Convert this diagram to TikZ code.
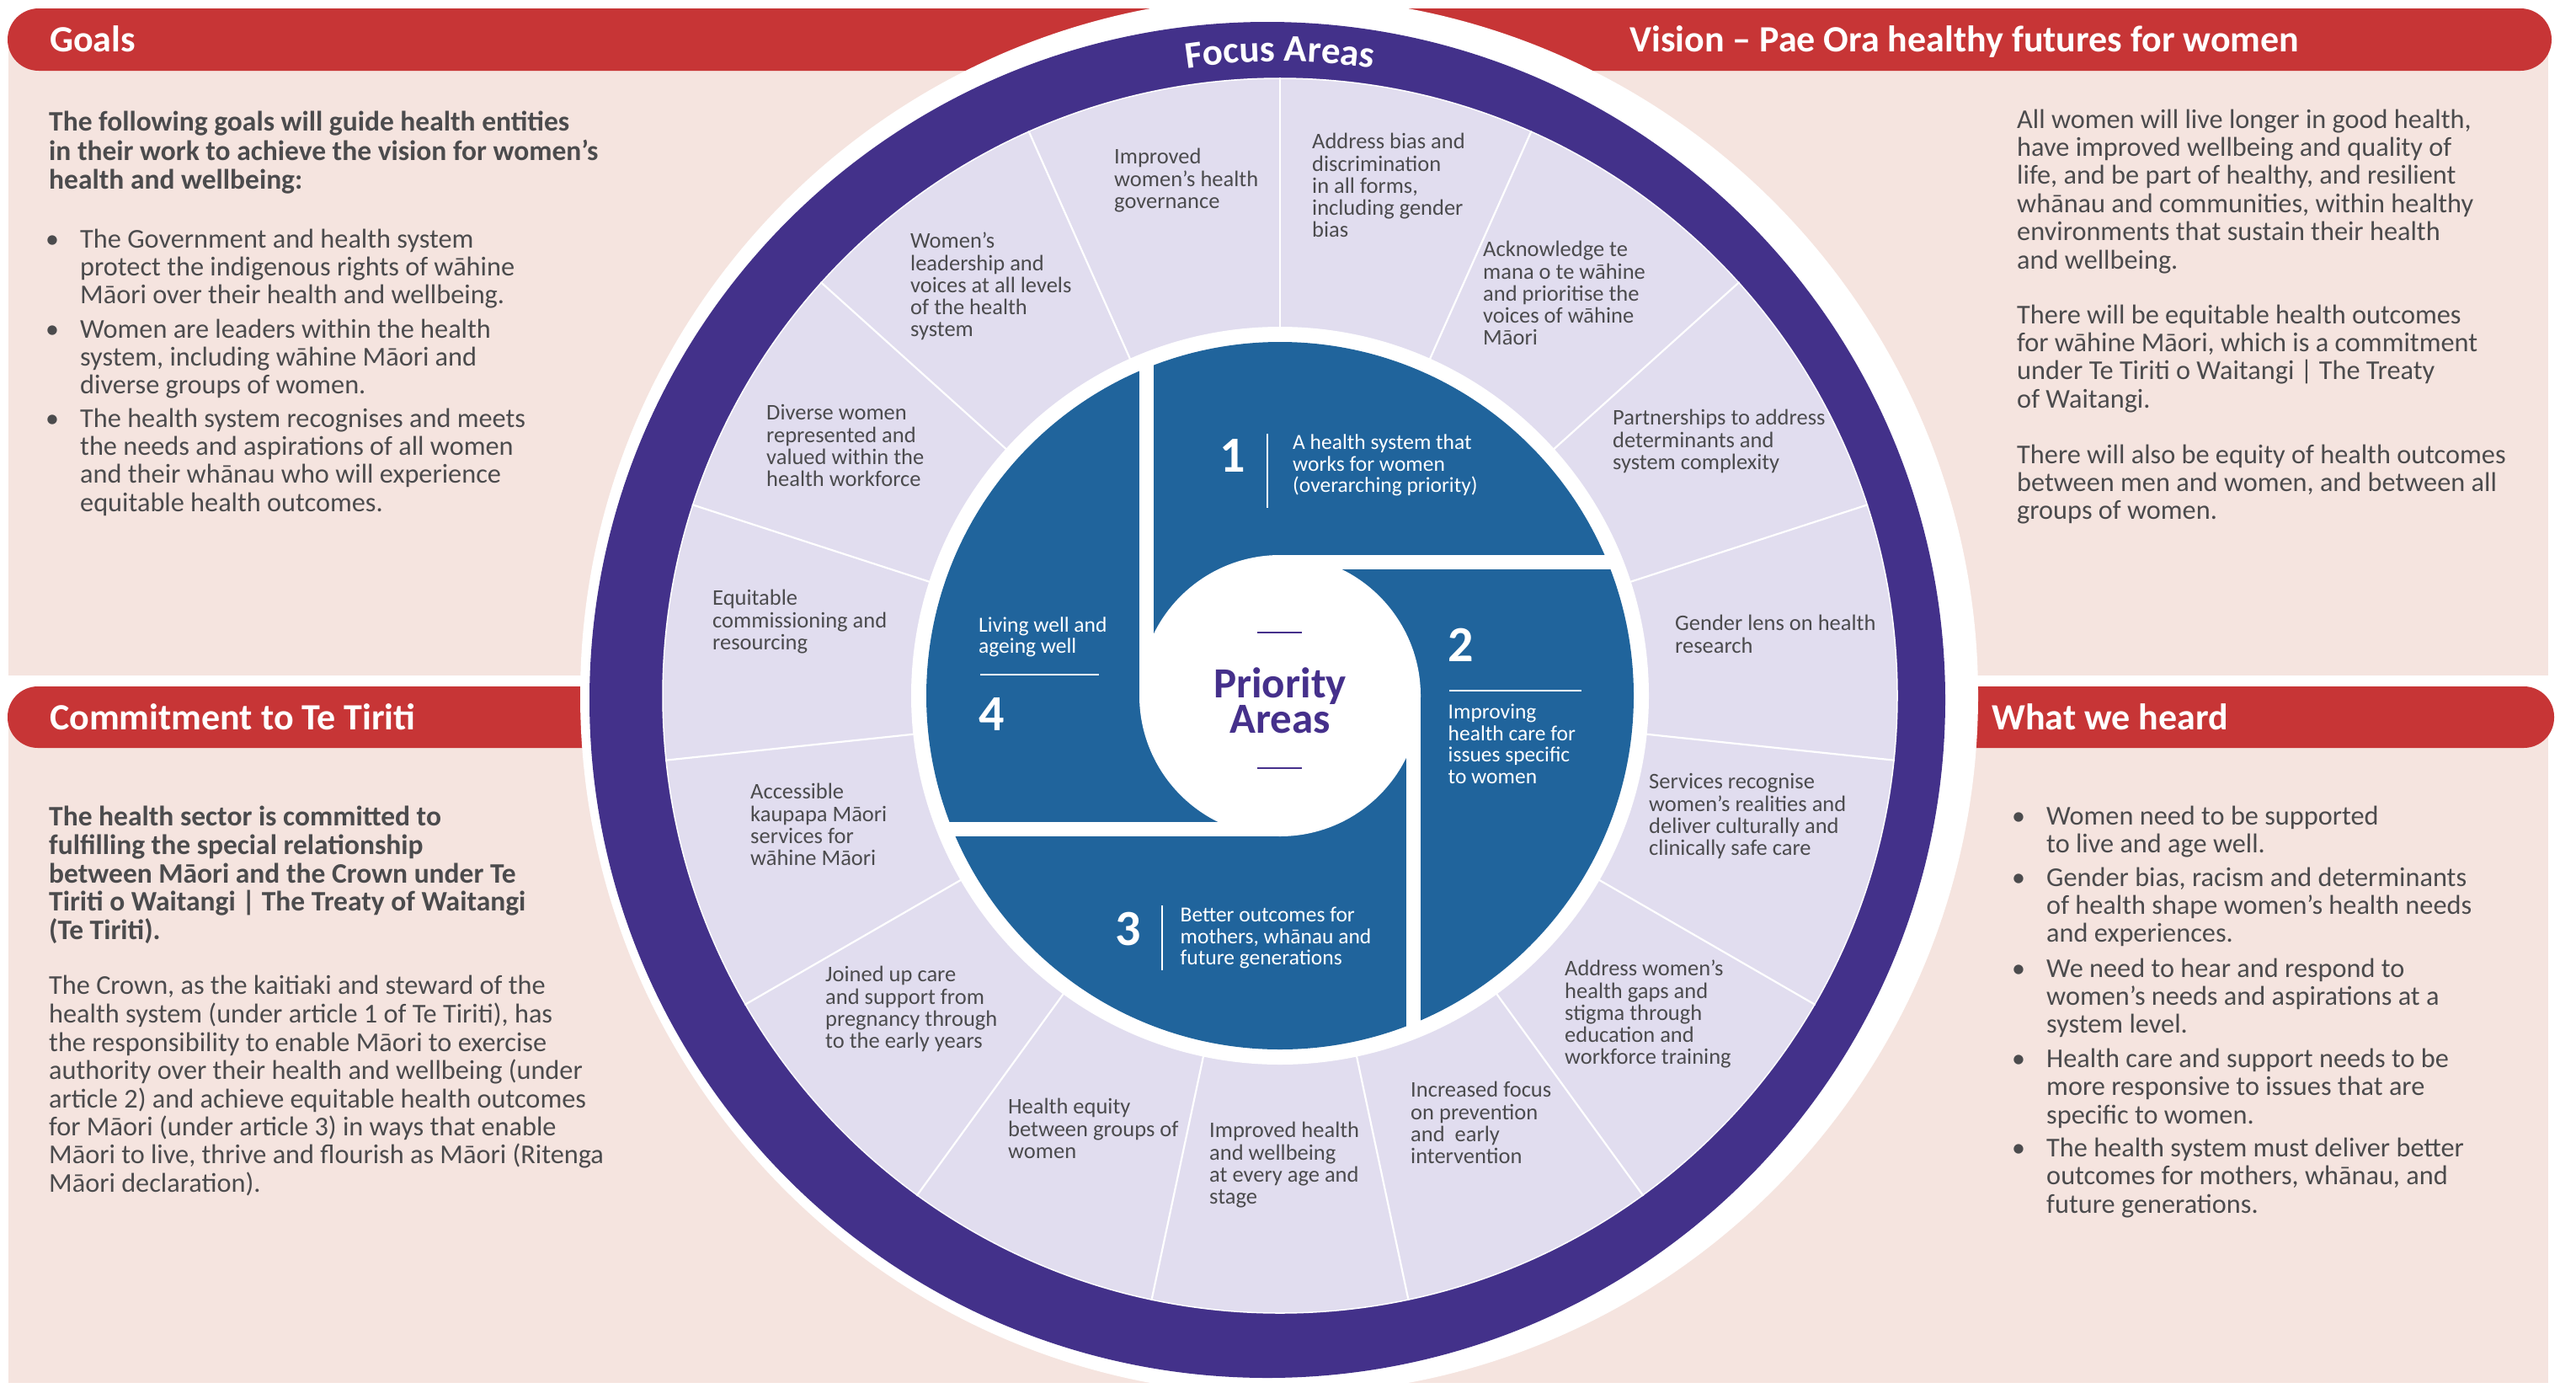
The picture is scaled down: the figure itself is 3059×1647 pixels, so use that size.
\documentclass[tikz,border=0pt]{standalone}
\usepackage{fontspec}
\setmainfont{Carlito}
\usetikzlibrary{calc,decorations.text}
\definecolor{pinkbg}{HTML}{F5E4DF}
\definecolor{barred}{HTML}{C73536}
\definecolor{ringpurple}{HTML}{43318A}
\definecolor{lav}{HTML}{E1DDEF}
\definecolor{qblue}{HTML}{20649C}
\definecolor{txt}{HTML}{4B4B4D}
\definecolor{ptxt}{HTML}{45308B}
\begin{document}
\begin{tikzpicture}[x=1pt,y=1pt,
  body/.style={anchor=north west, inner sep=0pt, align=left, text=txt, font=\fontsize{32.3}{33.4}\selectfont},
  bodyb/.style={anchor=north west, inner sep=0pt, align=left, text=txt, font=\fontsize{33.5}{33.4}\selectfont\bfseries},
  dot/.style={anchor=base, inner sep=0pt, text=txt, font=\fontsize{32}{33.4}\selectfont},
  seg/.style={anchor=north west, inner sep=0pt, align=left, text=txt, font=\fontsize{26.5}{26}\selectfont},
  quad/.style={anchor=north west, inner sep=0pt, align=left, text=white, font=\fontsize{25.5}{25.5}\selectfont},
  num/.style={inner sep=0pt, text=white, font=\fontsize{60}{60}\selectfont\bfseries},
  title/.style={anchor=base west, inner sep=0pt, text=white, font=\fontsize{44}{44}\selectfont\bfseries},
  prio/.style={anchor=north, inner sep=0pt, align=center, text=ptxt, font=\fontsize{51}{42}\selectfont\bfseries},
  divline/.style={white, line width=2.2pt},
  qline/.style={white, line width=2pt},
  pline/.style={ptxt, line width=2pt}
]
\useasboundingbox (0,0) rectangle (3059,-1647);
\fill[white] (0,0) rectangle (3059,-1647);
% panels
\fill[pinkbg] (10,-47) rectangle (3026,-802);
\fill[pinkbg] (10,-851) rectangle (3026,-1642);
% red bars
\fill[barred, rounded corners=37pt] (9,-10) rectangle (3030,-84);
\fill[barred, rounded corners=36pt] (9,-815) rectangle (760,-888);
\fill[barred, rounded corners=36pt] (2280,-815) rectangle (3033,-888);
% wheel
\coordinate (C) at (1520,-826);
\fill[white] (1519,-826) circle[radius=830pt];
\fill[ringpurple] (1505,-831) circle[radius=805pt];
\fill[lav, draw=white, line width=1.5pt] (C) circle[radius=733pt];
\foreach \a in {90,66,...,-246}
  \draw[divline] ($(C)+(\a:436pt)$) -- ($(C)+(\a:734pt)$);
\fill[white] (C) circle[radius=438pt];
\fill[qblue] (C) circle[radius=420pt];
\begin{scope}
  \clip (C) circle[radius=430pt];
  \fill[white] (C) circle[radius=167pt];
  \fill[white] (1353,-826) rectangle (1370,-380);
  \fill[white] (1520,-659) rectangle (1960,-676);
  \fill[white] (1670,-826) rectangle (1687,-1270);
  \fill[white] (1080,-976) rectangle (1520,-993);
\end{scope}
% Focus Areas curved title
\path[decorate, decoration={text along path, text color=white, text align=center,
  text={|\fontsize{45}{45}\selectfont\bfseries|Focus Areas}}]
  ($(C)+(100:753pt)$) arc[start angle=100, end angle=80, radius=753pt];

% titles
\node[title] (tgoals) at (59,-61) {Goals};
\node[title] (tvision) at (1935,-61) {Vision – Pae Ora healthy futures for women};
\node[title] (tcommit) at (59,-866) {Commitment to Te Tiriti};
\node[title] (theard) at (2365,-866) {What we heard};

% Goals
\node[bodyb] (gintro) at (58,-131.6) {\strut The following goals will guide health entities\\in their work to achieve the vision for women’s\\health and wellbeing:};
\node[dot] (gd1) at (62,-294) {\textbullet};
\node[body] (gb1) at (95,-270.6) {\strut The Government and health system\\protect the indigenous rights of wāhine\\Māori over their health and wellbeing.};
\node[dot] (gd2) at (62,-401) {\textbullet};
\node[body] (gb2) at (95,-377.6) {\strut Women are leaders within the health\\system, including wāhine Māori and\\diverse groups of women.};
\node[dot] (gd3) at (62,-507) {\textbullet};
\node[body] (gb3) at (95,-483.6) {\strut The health system recognises and meets\\the needs and aspirations of all women\\and their whānau who will experience\\equitable health outcomes.};

% Commitment
\node[bodyb] (cintro) at (58,-956.6) {\strut The health sector is committed to\\fulfilling the special relationship\\between Māori and the Crown under Te\\Tiriti o Waitangi | The Treaty of Waitangi\\(Te Tiriti).};
\node[body] (cbody) at (58,-1156.6) {\strut The Crown, as the kaitiaki and steward of the\\health system (under article 1 of Te Tiriti), has\\the responsibility to enable Māori to exercise\\authority over their health and wellbeing (under\\article 2) and achieve equitable health outcomes\\for Māori (under article 3) in ways that enable\\Māori to live, thrive and flourish as Māori (Ritenga\\Māori declaration).};

% Vision
\node[body] (vp1) at (2395,-128.6) {\strut All women will live longer in good health,\\have improved wellbeing and quality of\\life, and be part of healthy, and resilient\\whānau and communities, within healthy\\environments that sustain their health\\and wellbeing.};
\node[body] (vp2) at (2395,-360.6) {\strut There will be equitable health outcomes\\for wāhine Māori, which is a commitment\\under Te Tiriti o Waitangi | The Treaty\\of Waitangi.};
\node[body] (vp3) at (2395,-526.6) {\strut There will also be equity of health outcomes\\between men and women, and between all\\groups of women.};

% What we heard
\node[dot] (hd1) at (2397,-979) {\textbullet};
\node[body] (hb1) at (2430,-955.6) {\strut Women need to be supported\\to live and age well.};
\node[dot] (hd2) at (2397,-1052) {\textbullet};
\node[body] (hb2) at (2430,-1028.6) {\strut Gender bias, racism and determinants\\of health shape women’s health needs\\and experiences.};
\node[dot] (hd3) at (2397,-1160) {\textbullet};
\node[body] (hb3) at (2430,-1136.6) {\strut We need to hear and respond to\\women’s needs and aspirations at a\\system level.};
\node[dot] (hd4) at (2397,-1267) {\textbullet};
\node[body] (hb4) at (2430,-1243.6) {\strut Health care and support needs to be\\more responsive to issues that are\\specific to women.};
\node[dot] (hd5) at (2397,-1373) {\textbullet};
\node[body] (hb5) at (2430,-1349.6) {\strut The health system must deliver better\\outcomes for mothers, whānau, and\\future generations.};

% Focus area segments
\node[seg] (s1) at (1323,-175.6) {\strut Improved\\women’s health\\governance};
\node[seg] (s2) at (1558,-157.6) {\strut Address bias and\\discrimination\\in all forms,\\including gender\\bias};
\node[seg] (s3) at (1761,-285.6) {\strut Acknowledge te\\mana o te wāhine\\and prioritise the\\voices of wāhine\\Māori};
\node[seg] (s4) at (1915,-485.6) {\strut Partnerships to address\\determinants and\\system complexity};
\node[seg] (s5) at (1989,-729.6) {\strut Gender lens on health\\research};
\node[seg] (s6) at (1958,-917.6) {\strut Services recognise\\women’s realities and\\deliver culturally and\\clinically safe care};
\node[seg] (s7) at (1858,-1139.6) {\strut Address women’s\\health gaps and\\stigma through\\education and\\workforce training};
\node[seg] (s8) at (1675,-1283.6) {\strut Increased focus\\on prevention\\and\ \ early\\intervention};
\node[seg] (s9) at (1436,-1331.6) {\strut Improved health\\and wellbeing\\at every age and\\stage};
\node[seg] (s10) at (1197,-1303.6) {\strut Health equity\\between groups of\\women};
\node[seg] (s11) at (980,-1146.6) {\strut Joined up care\\and support from\\pregnancy through\\to the early years};
\node[seg] (s12) at (891,-929.6) {\strut Accessible\\kaupapa Māori\\services for\\wāhine Māori};
\node[seg] (s13) at (846,-699.6) {\strut Equitable\\commissioning and\\resourcing};
\node[seg] (s14) at (910,-479.6) {\strut Diverse women\\represented and\\valued within the\\health workforce};
\node[seg] (s15) at (1081,-275.6) {\strut Women’s\\leadership and\\voices at all levels\\of the health\\system};

% Priority quadrants
\node[num] (n1) at (1463.5,-541) {1};
\draw[qline] (1505,-515) -- (1505,-603);
\node[quad] (q1) at (1535,-515.5) {\strut A health system that\\works for women\\(overarching priority)};
\node[num] (n2) at (1734.5,-766) {2};
\draw[qline] (1721,-820) -- (1878,-820);
\node[quad] (q2) at (1719.5,-835.5) {\strut Improving\\health care for\\issues specific\\to women};
\node[num] (n3) at (1339.5,-1103) {3};
\draw[qline] (1380,-1075) -- (1380,-1152);
\node[quad] (q3) at (1401.5,-1076.5) {\strut Better outcomes for\\mothers, whānau and\\future generations};
\node[quad] (q4) at (1162,-732) {\strut Living well and\\ageing well};
\draw[qline] (1164,-801) -- (1305,-801);
\node[num] (n4) at (1178,-848) {4};

% centre
\draw[pline] (1493,-751) -- (1546,-751);
\node[prio] (pa) at (1520,-788) {\rule{0pt}{40pt}Priority\\Areas};
\draw[pline] (1493,-912) -- (1546,-912);
\end{tikzpicture}
\end{document}
